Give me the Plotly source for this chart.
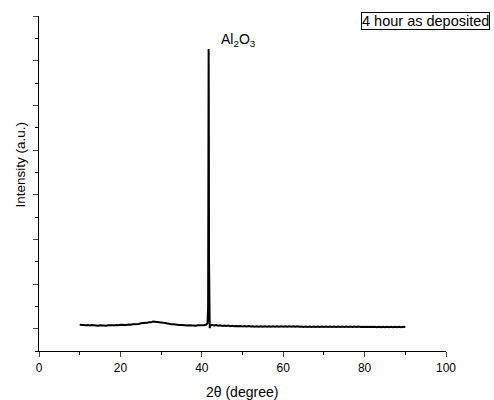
import plotly.graph_objects as go

two_theta = [
    10, 10.5, 11, 11.5, 12, 12.5, 13, 13.5, 14, 14.5, 15, 15.5, 16, 16.5, 17, 17.5, 18, 18.5, 19, 19.5,
    20, 20.5, 21, 21.5, 22, 22.5, 23, 23.5, 24, 24.5, 25, 25.5, 26, 26.5, 27, 27.5, 28, 28.5, 29, 29.5,
    30, 30.5, 31, 31.5, 32, 32.5, 33, 33.5, 34, 34.5, 35, 35.5, 36, 36.5, 37, 37.5, 38, 38.5, 39, 39.5,
    40, 40.5, 41,
    41.4, 41.55, 41.62, 41.68, 41.72, 41.78, 41.85, 41.95, 42,
    42.5, 43, 43.5, 44, 44.5, 45, 45.5, 46, 46.5, 47, 47.5, 48, 48.5, 49, 49.5,
    50, 50.5, 51, 51.5, 52, 52.5, 53, 53.5, 54, 54.5, 55, 55.5, 56, 56.5, 57, 57.5, 58, 58.5, 59, 59.5,
    60, 60.5, 61, 61.5, 62, 62.5, 63, 63.5, 64, 64.5, 65, 65.5, 66, 66.5, 67, 67.5, 68, 68.5, 69, 69.5,
    70, 70.5, 71, 71.5, 72, 72.5, 73, 73.5, 74, 74.5, 75, 75.5, 76, 76.5, 77, 77.5, 78, 78.5, 79, 79.5,
    80, 80.5, 81, 81.5, 82, 82.5, 83, 83.5, 84, 84.5, 85, 85.5, 86, 86.5, 87, 87.5, 88, 88.5, 89, 89.5,
    90,
]
intensity = [
    85, 78, 88, 74, 82, 70, 80, 72, 78, 68, 76, 70, 80, 68, 77, 72, 82, 74, 84, 76,
    86, 80, 90, 84, 95, 88, 100, 96, 108, 104, 120, 118, 132, 130, 145, 142, 158, 150, 156, 145,
    142, 130, 128, 115, 112, 100, 98, 88, 90, 80, 84, 74, 80, 70, 78, 70, 76, 68, 78, 72,
    82, 76, 88,
    120, 480, 2500, 6260, 5000, 1500, 280, 10, 60,
    85, 72, 80, 66, 74, 62, 70, 58, 68, 56, 64, 54, 62, 52, 60,
    50, 58, 48, 57, 47, 56, 46, 56, 46, 55, 45, 55, 45, 54, 44, 54, 44, 53, 43, 53,
    43, 52, 42, 52, 42, 51, 41, 51, 41, 50, 40, 50, 40, 50, 40, 49, 39, 49, 39, 49,
    39, 48, 38, 48, 38, 48, 38, 47, 37, 47, 37, 47, 37, 46, 36, 46, 36, 46, 36, 45,
    35, 45, 35, 45, 35, 44, 34, 44, 34, 44, 34, 44, 34, 43, 33, 43, 33, 44, 34, 44,
    36,
]

fig = go.Figure()
fig.add_trace(go.Scatter(x=two_theta, y=intensity, mode="lines",
                         line=dict(color="black", width=2), showlegend=False))

font = dict(family="Arial, 'Liberation Sans', sans-serif", size=12, color="black")

W, H = 494, 400
L, R, T, B = 38.5, 48, 16, 49
pw, ph = W - L - R, H - T - B

fig.update_layout(
    width=W, height=H,
    margin=dict(l=L, r=R, t=T, b=B, autoexpand=False),
    paper_bgcolor="white", plot_bgcolor="white",
    font=font,
    xaxis=dict(range=[0, 100], dtick=20, tick0=0, ticks="outside", ticklen=5, tickwidth=1,
               showline=True, linecolor="black", linewidth=1.3, showgrid=False, zeroline=False,
               automargin=False,
               minor=dict(dtick=10, tick0=0, ticks="outside", ticklen=3, tickcolor="black"),
               tickfont=dict(size=12)),
    yaxis=dict(range=[-500, 7000], dtick=1000, tick0=0, ticks="outside", ticklen=5, tickwidth=1,
               showline=True, linecolor="black", linewidth=1.3, showgrid=False, zeroline=False,
               showticklabels=False, automargin=False,
               minor=dict(dtick=500, tick0=0, ticks="outside", ticklen=3, tickcolor="black")),
    annotations=[
        dict(text="2θ (degree)", x=(242 - L) / pw, y=-(392 - (H - B)) / ph, xref="paper", yref="paper",
             xanchor="center", yanchor="middle", showarrow=False, font=dict(size=14)),
        dict(text="Intensity (a.u.)", x=(19 - L) / pw, y=((H - B) - 165) / ph, xref="paper", yref="paper",
             xanchor="center", yanchor="middle", showarrow=False, textangle=-90, font=dict(size=13.5)),
        dict(text="Al<sub>2</sub>O<sub>3</sub>", x=44.3, y=6460, xref="x", yref="y",
             xanchor="left", yanchor="middle", showarrow=False, font=dict(size=14)),
        dict(text="4 hour as deposited", x=(490 - L) / pw, y=((H - B) - 12) / ph, xref="paper", yref="paper",
             xanchor="right", yanchor="top", showarrow=False, font=dict(size=14.5),
             bordercolor="black", borderwidth=1, borderpad=0, bgcolor="white"),
    ],
)

fig.write_html("out.html", config={"displayModeBar": False},
               post_script="document.body.style.margin='0';document.body.style.padding='0';")
